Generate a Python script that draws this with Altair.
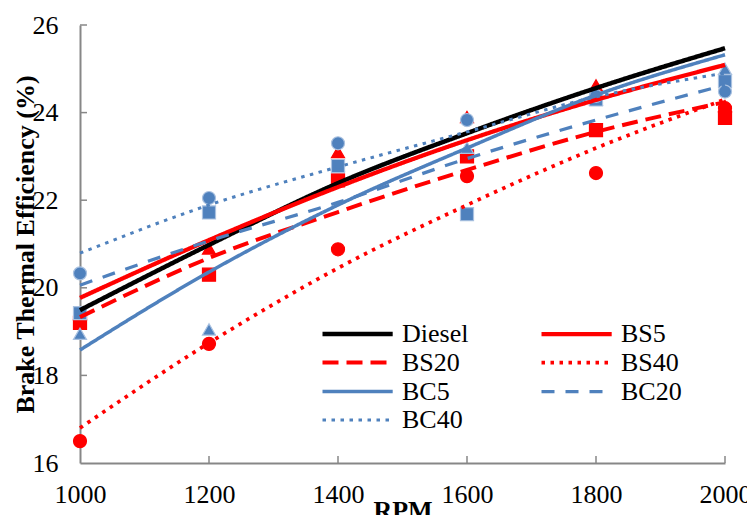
import altair as alt
import pandas as pd

# ---------------- data ----------------
rpm = [1000, 1200, 1400, 1600, 1800, 2000]
series = ["Diesel", "BS5", "BS20", "BS40", "BC5", "BC20", "BC40"]

# measured points (markers)
bs5_pts = [19.40, 20.90, 23.10, 23.90, 24.62, 24.15]
bs20_pts = [19.20, 20.30, 22.45, 23.00, 23.60, 23.88]
bs40_pts = [16.50, 18.72, 20.88, 22.55, 22.62, 24.10]
bc5_pts = [18.95, 19.05, 22.80, 23.20, 24.30, 25.00]
bc20_pts = [19.42, 21.72, 22.78, 21.68, 24.30, 24.72]
bc40_pts = [20.33, 22.05, 23.30, 23.83, 24.38, 24.48]

# trend lines
diesel_fit = [19.49, 20.98, 22.39, 23.53, 24.56, 25.47]
bs5_fit = [19.77, 21.09, 22.30, 23.37, 24.29, 25.09]
bs20_fit = [19.33, 20.68, 21.73, 22.69, 23.56, 24.24]
bs40_fit = [16.80, 18.74, 20.45, 21.89, 23.19, 24.30]
bc5_fit = [18.58, 20.36, 21.89, 23.19, 24.40, 25.32]
bc20_fit = [20.06, 21.07, 21.95, 22.95, 23.83, 24.63]
bc40_fit = [20.79, 21.89, 22.76, 23.56, 24.36, 24.90]

y_ticks = [16, 18, 20, 22, 24, 26]
x_ticks = [1000, 1200, 1400, 1600, 1800, 2000]

# ---------------- tables ----------------
fits = [diesel_fit, bs5_fit, bs20_fit, bs40_fit, bc5_fit, bc20_fit, bc40_fit]
fit_rows = []
for name, vals in zip(series, fits):
    for r, v in zip(rpm, vals):
        fit_rows.append({"rpm": r, "bte": v, "series": name})
fit_df = pd.DataFrame(fit_rows)

pt_names = ["BS5", "BS20", "BS40", "BC5", "BC20", "BC40"]
pts = [bs5_pts, bs20_pts, bs40_pts, bc5_pts, bc20_pts, bc40_pts]
pt_rows = []
for name, vals in zip(pt_names, pts):
    for r, v in zip(rpm, vals):
        pt_rows.append({"rpm": r, "bte": v, "fuel": name})
pt_df = pd.DataFrame(pt_rows)

ytick_df = pd.DataFrame({"v": y_ticks[1:]})
xtick_df = pd.DataFrame({"v": x_ticks[1:]})

RED = "#FF0000"
BLUE = "#4F81BD"
FONT = "Liberation Serif"
AXC = "#878787"

xscale = alt.Scale(domain=[1000, 2000], nice=False, zero=False)
yscale = alt.Scale(domain=[16, 26], nice=False, zero=False)

x_axis = alt.Axis(values=x_ticks, format="d", ticks=False, grid=False, domainColor=AXC, domainWidth=2,
                  labelFont=FONT, labelFontSize=26, labelColor="black", labelPadding=18,
                  labelFlush=False, labelOverlap=False,
                  titleFont=FONT, titleFontSize=26, titleFontWeight="bold", titleColor="black",
                  titleY=34, titleBaseline="top")
y_axis = alt.Axis(values=y_ticks, format="d", ticks=False, grid=False, domainColor=AXC, domainWidth=2,
                  labelFont=FONT, labelFontSize=26, labelColor="black", labelPadding=22,
                  labelFlush=False, labelOverlap=False,
                  titleFont=FONT, titleFontSize=26, titleFontWeight="bold", titleColor="black",
                  titleX=-55, titleY=219, titleAngle=270, titleAlign="center", titleBaseline="middle")

points = alt.Chart(pt_df).mark_point(filled=True, opacity=1, strokeWidth=1.2).encode(
    x=alt.X("rpm:Q", scale=xscale, axis=x_axis, title="RPM"),
    y=alt.Y("bte:Q", scale=yscale, axis=y_axis, title="Brake Thermal Efficiency (%)"),
    color=alt.Color("fuel:N", scale=alt.Scale(domain=pt_names, range=[RED, RED, RED, BLUE, BLUE, BLUE]), legend=None),
    stroke=alt.Stroke("fuel:N", scale=alt.Scale(domain=pt_names, range=[RED, RED, RED, "#A9C1E0", "#A9C1E0", "#A9C1E0"]), legend=None),
    shape=alt.Shape("fuel:N", scale=alt.Scale(domain=pt_names, range=["triangle-up", "square", "circle", "triangle-up", "square", "circle"]), legend=None),
    size=alt.value(170),
)

lines = alt.Chart(fit_df).mark_line(interpolate="monotone", strokeCap="butt").encode(
    x=alt.X("rpm:Q", scale=xscale),
    y=alt.Y("bte:Q", scale=yscale),
    color=alt.Color("series:N", sort=series,
                    scale=alt.Scale(domain=series, range=["#000000", RED, RED, RED, BLUE, BLUE, BLUE]),
                    legend=alt.Legend(orient="none", legendX=240, legendY=293, columns=2, title=None,
                                      direction="horizontal", gridAlign="all",
                                      symbolType="M-1,0H4.2", symbolSize=729, labelFont=FONT,
                                      labelFontSize=26, labelColor="black", labelOffset=50,
                                      columnPadding=64, rowPadding=-2, padding=0)),
    strokeDash=alt.StrokeDash("series:N", sort=series,
                              scale=alt.Scale(domain=series, range=[[1, 0], [1, 0], [16, 8], [3.5, 5.5], [1, 0], [13, 11], [3.5, 5.5]])),
    strokeWidth=alt.StrokeWidth("series:N", sort=series,
                                scale=alt.Scale(domain=series, range=[4.5, 3, 3, 3.5, 3, 3, 3.5])),
)

yticks = alt.Chart(ytick_df).mark_rule(color=AXC, strokeWidth=1.5).encode(
    y=alt.Y("v:Q", scale=yscale), x=alt.value(0), x2=alt.value(7))
xticks = alt.Chart(xtick_df).mark_rule(color=AXC, strokeWidth=1.5).encode(
    x=alt.X("v:Q", scale=xscale), y=alt.value(438), y2=alt.value(431))

chart = alt.layer(points, lines, yticks, xticks).resolve_scale(
    color="independent", strokeDash="independent", strokeWidth="independent",
    stroke="independent", shape="independent"
).properties(
    width=645, height=438,
    autosize=alt.AutoSizeParams(type="none"),
    padding={"left": 72, "top": 17, "right": 22, "bottom": 52},
).configure_view(stroke=None)

chart.save("out.html", embed_options={"renderer": "svg", "actions": False})
